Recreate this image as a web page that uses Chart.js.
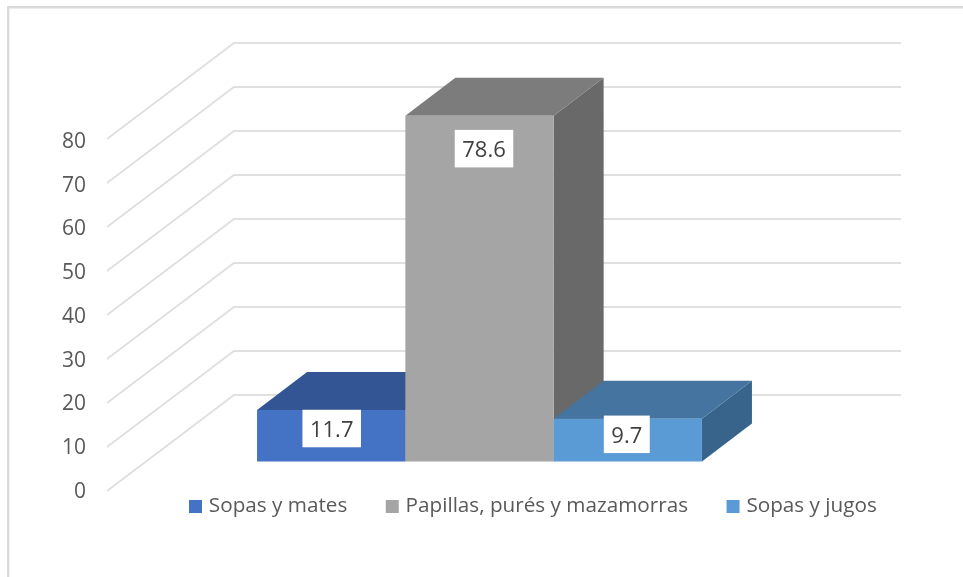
<!DOCTYPE html>
<html>
<head>
<meta charset="utf-8">
<style>
html,body{margin:0;padding:0;background:#fff;overflow:hidden}
#wrap{position:relative;width:963px;height:577px}
</style>
<script src="https://cdn.jsdelivr.net/npm/chart.js@4"></script>
</head>
<body>
<div id="wrap"><canvas id="c" width="963" height="577"></canvas></div>
<script>
const categories = [''];
const seriesNames = ['Sopas y mates', 'Papillas, purés y mazamorras', 'Sopas y jugos'];
const sopasMates = [11.7];
const papillas = [78.6];
const sopasJugos = [9.7];
const frontColors = ['#4472C4', '#A5A5A5', '#5B9BD5'];
const topColors = ['#335593', '#7C7C7C', '#44749F'];
const sideColors = ['#2B4A82', '#696969', '#38648B'];

const FONT = '"Open Sans", sans-serif';
const WALL_DX = 127, WALL_DY = -96;      // depth of the side wall
const BAR_DX = 39, BAR_DY = -29.5;       // bars stand part-way into the floor
const DEPTH_DX = 50, DEPTH_DY = -38;     // depth of each bar
const WALL_RIGHT = 901;
const LABEL_CENTRE_Y = [18.5, 33, 15.5]; // data label centre below the bar top
const LABEL_SHIFT_X = [0.5, 4.5, -1];    // data label shift from the bar centre

const scene = {
  id: 'scene',
  beforeDraw(chart) {
    const ctx = chart.ctx, y = chart.scales.y, a = chart.chartArea;
    ctx.save();
    ctx.strokeStyle = '#d9d9d9';
    ctx.lineWidth = 2.4;
    ctx.beginPath();
    ctx.moveTo(8.2, 577); ctx.lineTo(8.2, 7.3); ctx.lineTo(963, 7.3);
    ctx.stroke();
    ctx.strokeStyle = '#e0e0e0';
    ctx.lineWidth = 2;
    ctx.lineJoin = 'miter';
    y.ticks.forEach(t => {
      const py = y.getPixelForValue(t.value);
      ctx.beginPath();
      ctx.moveTo(a.left, py);
      ctx.lineTo(a.left + WALL_DX, py + WALL_DY);
      ctx.lineTo(WALL_RIGHT, py + WALL_DY);
      ctx.stroke();
    });
    ctx.restore();
  },
  afterLayout(chart) {
    const l = chart.legend;
    const opts = chart.options.plugins.legend.labels;
    l.left = 192.5 - opts.padding;
    l.right = 2000;
    l.top = 506.5 - opts.padding - opts.font.size / 2;
  },
  beforeDatasetDraw() { return false; },
  afterDatasetsDraw(chart) {
    const ctx = chart.ctx;
    chart.data.datasets.forEach((ds, i) => {
      const bar = chart.getDatasetMeta(i).data[0];
      const half = bar.width / 2;
      const l = bar.x - half, r = bar.x + half, t = bar.y, b = bar.base;
      ctx.save();
      ctx.translate(BAR_DX, BAR_DY);
      ctx.fillStyle = sideColors[i];
      ctx.beginPath();
      ctx.moveTo(r, t); ctx.lineTo(r + DEPTH_DX, t + DEPTH_DY);
      ctx.lineTo(r + DEPTH_DX, b + DEPTH_DY); ctx.lineTo(r, b);
      ctx.closePath(); ctx.fill();
      ctx.fillStyle = topColors[i];
      ctx.beginPath();
      ctx.moveTo(l, t); ctx.lineTo(l + DEPTH_DX, t + DEPTH_DY);
      ctx.lineTo(r + DEPTH_DX, t + DEPTH_DY); ctx.lineTo(r, t);
      ctx.closePath(); ctx.fill();
      bar.draw(ctx);
      ctx.restore();
    });
    chart.data.datasets.forEach((ds, i) => {
      const bar = chart.getDatasetMeta(i).data[0];
      const text = ds.data[0].toFixed(1);
      ctx.save();
      ctx.font = '22px ' + FONT;
      const w = ctx.measureText(text).width + 15, h = 37.5;
      const cx = bar.x + BAR_DX + LABEL_SHIFT_X[i], cy = bar.y + BAR_DY + LABEL_CENTRE_Y[i];
      ctx.fillStyle = '#ffffff';
      ctx.fillRect(cx - w / 2, cy - h / 2, w, h);
      ctx.fillStyle = '#404040';
      ctx.textAlign = 'center';
      ctx.textBaseline = 'middle';
      ctx.fillText(text, cx, cy + 2);
      ctx.restore();
    });
  }
};

new Chart(document.getElementById('c'), {
  type: 'bar',
  data: {
    labels: categories,
    datasets: [
      { label: seriesNames[0], data: sopasMates, backgroundColor: frontColors[0] },
      { label: seriesNames[1], data: papillas, backgroundColor: frontColors[1] },
      { label: seriesNames[2], data: sopasJugos, backgroundColor: frontColors[2] }
    ]
  },
  options: {
    responsive: false,
    animation: false,
    events: [],
    layout: { padding: { left: 7, top: 139, right: 189, bottom: 56 } },
    datasets: { bar: { barPercentage: 1, categoryPercentage: 0.667, borderWidth: 0 } },
    scales: {
      x: { display: false },
      y: {
        min: 0, max: 80,
        afterFit(s) { s.width = 100; },
        afterUpdate(s) {
          // tick labels sit on a slightly tighter spacing than the gridlines
          const compute = s._computeLabelItems;
          s._computeLabelItems = function (area) {
            return compute.call(s, area).map((item, i) => {
              item.options.translation[1] += 1 + 2 * (s.ticks[i].value / 80);
              return item;
            });
          };
        },
        border: { display: false },
        grid: { display: false, drawTicks: false },
        ticks: { stepSize: 10, padding: 21, color: '#595959', font: { family: FONT, size: 21 } }
      }
    },
    plugins: {
      tooltip: { enabled: false },
      legend: {
        position: 'bottom',
        align: 'start',
        maxHeight: 30,
        labels: {
          boxWidth: 6, boxHeight: 6, padding: 42,
          color: '#595959',
          font: { family: FONT, size: 20.7 },
          generateLabels(chart) {
            return chart.data.datasets.map((d, i) => ({
              text: d.label, fillStyle: frontColors[i], strokeStyle: frontColors[i],
              lineWidth: 7, datasetIndex: i, fontColor: '#595959'
            }));
          }
        }
      }
    }
  },
  plugins: [scene]
});
</script>
</body>
</html>
